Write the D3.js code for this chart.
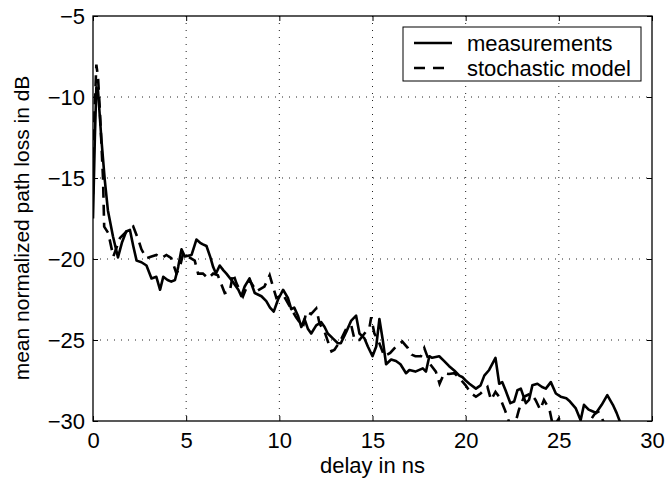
<!DOCTYPE html>
<html>
<head>
<meta charset="utf-8">
<script src="https://cdn.jsdelivr.net/npm/d3@7"></script>
<style>
  body { margin: 0; background: #fff; }
  svg text { font-family: "Liberation Sans", Arial, Helvetica, sans-serif; fill: #000; }
</style>
</head>
<body>
<div id="chart"></div>
<script>
// delay in ns / mean normalized path loss in dB
const measT = [0, 0.1, 0.18, 0.27, 0.45, 0.63, 0.8, 1.07, 1.34, 1.55, 1.78, 1.98, 2.16, 2.34, 2.6, 2.87, 3.14, 3.4, 3.6, 3.77,
  4.0, 4.2, 4.4, 4.57, 4.75, 4.93, 5.1, 5.29, 5.55, 5.75, 5.9, 6.09, 6.3, 6.45, 6.6, 6.8, 7.0, 7.16, 7.5, 7.8,
  7.96, 8.14, 8.4, 8.68, 9.04, 9.3, 9.5, 9.7, 9.93, 10.2, 10.46, 10.64, 10.8, 11.0, 11.18, 11.35, 11.53, 11.71, 11.98, 12.25,
  12.43, 12.6, 12.87, 13.14, 13.3, 13.59, 13.86, 14.12, 14.3, 14.57, 14.75, 15.0, 15.2, 15.37, 15.55, 15.73, 16.0, 16.26, 16.5, 16.8,
  16.98, 17.3, 17.7, 17.87, 18.05, 18.2, 18.58, 18.85, 19.1, 19.4, 19.66, 19.84, 20.0, 20.2, 20.55, 20.8, 21.0, 21.26, 21.6, 21.8,
  21.96, 22.14, 22.4, 22.6, 22.78, 22.96, 23.23, 23.4, 23.58, 23.85, 24.1, 24.3, 24.57, 24.84, 25.1, 25.4, 25.6, 25.9, 26.17, 26.35,
  26.6, 26.8, 27.0, 27.3, 27.6, 27.9, 28.1, 28.3];
const measV = [-17.5, -12.5, -9.4, -9.6, -12.6, -15.1, -17.0, -18.6, -19.9, -19.0, -18.3, -18.2, -19.2, -20.1, -20.2, -20.4, -21.2, -21.1, -21.9, -21.1,
  -21.3, -21.4, -21.3, -20.5, -19.4, -19.85, -19.8, -19.75, -18.8, -19.0, -19.1, -19.2, -19.9, -20.5, -20.9, -20.4, -20.7, -20.9, -21.4, -21.9,
  -22.3, -21.7, -21.2, -22.1, -22.3, -22.6, -23.0, -23.25, -22.5, -21.9, -22.4, -23.1, -23.0, -23.5, -24.2, -23.7, -24.3, -24.6, -24.1, -23.9,
  -24.2, -24.6, -24.9, -25.2, -25.2, -24.5, -23.8, -23.5, -24.6, -24.9, -25.4, -26.0, -25.4, -23.7, -25.0, -26.5, -26.2, -26.3, -26.5, -27.05,
  -26.85, -26.95, -26.75, -26.95, -26.0, -26.1, -26.0, -26.3, -26.6, -26.9, -27.2, -27.3, -27.5, -27.7, -28.0, -27.8, -27.2, -26.85, -26.1, -27.7,
  -27.6, -28.1, -28.9, -28.8, -28.1, -28.0, -28.9, -28.7, -27.8, -27.7, -27.9, -28.0, -27.6, -28.3, -28.5, -28.6, -28.8, -29.2, -29.95, -29.0,
  -29.3, -29.4, -29.5, -29.0, -28.4, -29.0, -29.5, -30.1];

const modelT = [0, 0.08, 0.18, 0.27, 0.36, 0.54, 0.6, 0.82, 1.09, 1.45, 1.8, 2.16, 2.43, 2.6, 2.87, 3.14, 3.4, 3.67, 3.94, 4.2,
  4.48, 4.66, 4.84, 5.1, 5.46, 5.64, 5.9, 6.18, 6.45, 6.7, 7.07, 7.34, 7.52, 7.7, 8.05, 8.4, 8.77, 9.2, 9.48, 9.84,
  10.2, 10.55, 10.9, 11.27, 11.45, 11.7, 11.98, 12.16, 12.43, 12.7, 12.8, 12.96, 13.3, 13.59, 13.86, 14.04, 14.3, 14.57, 14.84, 14.93,
  15.1, 15.3, 15.64, 15.95, 16.26, 16.6, 16.9, 17.1, 17.3, 17.6, 17.78, 18.1, 18.4, 18.6, 18.85, 19.1, 19.4, 19.66, 20.0, 20.3,
  20.55, 20.8, 21.17, 21.36, 21.6, 21.85, 22.1, 22.4, 22.65, 22.86, 23.13, 23.5, 23.75, 24.0, 24.2, 24.5, 24.7, 25.0, 25.3, 25.7,
  26.0, 26.5, 26.9, 27.1, 27.3, 27.5];
const modelV = [-16.0, -11.0, -8.0, -8.8, -10.6, -15.1, -18.0, -18.4, -19.85, -18.7, -18.3, -18.0, -18.8, -19.4, -19.95, -19.85, -19.75, -19.95, -19.75, -19.95,
  -20.9, -20.5, -19.65, -19.85, -20.1, -20.9, -20.9, -21.2, -20.9, -21.0, -22.1, -22.0, -20.9, -21.5, -22.3, -21.3, -22.0, -21.7, -21.0, -22.4,
  -22.2, -22.9, -23.6, -24.2, -23.25, -23.4, -23.05, -24.0, -24.5, -25.4, -25.7, -25.6, -25.0, -24.3, -24.1, -25.0, -25.0, -24.6, -24.2, -23.6,
  -24.6, -25.0, -26.0, -25.8, -25.4, -25.1, -25.5, -25.9, -26.0, -26.0, -25.5, -26.5, -26.95, -27.7, -27.05, -27.1, -27.05, -27.35, -27.8, -28.3,
  -28.5, -28.3, -27.9, -28.7, -28.2, -28.6, -29.3, -30.3, -30.2, -29.3, -28.5, -28.3, -28.7, -29.3, -28.7, -29.3, -30.4, -29.85, -30.5, -30.6,
  -30.5, -30.3, -29.6, -29.4, -29.8, -30.3];

const xTicks = [0, 5, 10, 15, 20, 25, 30];
const yTicks = [-30, -25, -20, -15, -10, -5];
const legendLabels = ["measurements", "stochastic model"];

const width = 666, height = 483;
const margin = { top: 16, right: 14, bottom: 62, left: 93 };
const w = width - margin.left - margin.right;
const h = height - margin.top - margin.bottom;
const fontSize = "22px";

const x = d3.scaleLinear().domain([0, 30]).range([0, w]);
const y = d3.scaleLinear().domain([-30, -5]).range([h, 0]);

const svg = d3.select("#chart").append("svg")
  .attr("width", width)
  .attr("height", height);

svg.append("defs").append("clipPath")
  .attr("id", "plot-clip")
  .append("rect")
  .attr("width", w)
  .attr("height", h);

const g = svg.append("g")
  .attr("transform", "translate(" + margin.left + "," + margin.top + ")");

// dotted grid
const grid = g.append("g").attr("class", "grid");
grid.selectAll("line.gx")
  .data(xTicks.slice(1, -1))
  .join("line")
  .attr("x1", d => x(d)).attr("x2", d => x(d))
  .attr("y1", 0).attr("y2", h)
  .attr("stroke", "#222").attr("stroke-width", 1)
  .attr("stroke-dasharray", "1,6");
grid.selectAll("line.gy")
  .data(yTicks.slice(1, -1))
  .join("line")
  .attr("x1", 0).attr("x2", w)
  .attr("y1", d => y(d)).attr("y2", d => y(d))
  .attr("stroke", "#222").attr("stroke-width", 1)
  .attr("stroke-dasharray", "1,6");

// axes, ticks inward on all four sides
const fmt = d3.format("d");
const styleAxis = function (sel) {
  sel.select(".domain").remove();
  sel.selectAll(".tick line").attr("stroke", "#000").attr("stroke-width", 1);
  sel.selectAll(".tick text").style("font-size", fontSize);
};
g.append("g")
  .attr("transform", "translate(0," + h + ")")
  .call(d3.axisBottom(x).tickValues(xTicks).tickFormat(fmt).tickSizeInner(-5).tickSizeOuter(0).tickPadding(11))
  .call(styleAxis);
g.append("g")
  .call(d3.axisLeft(y).tickValues(yTicks).tickFormat(fmt).tickSizeInner(-5).tickSizeOuter(0).tickPadding(8))
  .call(styleAxis);
g.append("g")
  .call(d3.axisTop(x).tickValues(xTicks).tickFormat("").tickSizeInner(-5).tickSizeOuter(0))
  .call(styleAxis);
g.append("g")
  .attr("transform", "translate(" + w + ",0)")
  .call(d3.axisRight(y).tickValues(yTicks).tickFormat("").tickSizeInner(-5).tickSizeOuter(0))
  .call(styleAxis);

// series
const line = d3.line()
  .x(d => x(d[0]))
  .y(d => y(d[1]));
const lines = g.append("g").attr("clip-path", "url(#plot-clip)");
lines.append("path")
  .datum(d3.zip(modelT, modelV))
  .attr("fill", "none")
  .attr("stroke", "#000")
  .attr("stroke-width", 2.6)
  .attr("stroke-dasharray", "11,7")
  .attr("d", line);
lines.append("path")
  .datum(d3.zip(measT, measV))
  .attr("fill", "none")
  .attr("stroke", "#000")
  .attr("stroke-width", 2.6)
  .attr("stroke-linejoin", "round")
  .attr("d", line);

// frame
g.append("rect")
  .attr("width", w).attr("height", h)
  .attr("fill", "none")
  .attr("stroke", "#000")
  .attr("stroke-width", 1.3);

// legend
const lg = svg.append("g").attr("transform", "translate(403,27)");
lg.append("rect")
  .attr("width", 238).attr("height", 54)
  .attr("fill", "#fff")
  .attr("stroke", "#000")
  .attr("stroke-width", 1);
legendLabels.forEach((label, i) => {
  const ly = 16 + i * 25;
  lg.append("line")
    .attr("x1", 11).attr("x2", 49)
    .attr("y1", ly).attr("y2", ly)
    .attr("stroke", "#000").attr("stroke-width", 2.6)
    .attr("stroke-dasharray", i === 1 ? "11,8" : null);
  lg.append("text")
    .attr("x", 64).attr("y", ly)
    .attr("dy", "0.35em")
    .style("font-size", fontSize)
    .text(label);
});

// axis titles
svg.append("text")
  .attr("x", margin.left + w / 2)
  .attr("y", 473)
  .attr("text-anchor", "middle")
  .style("font-size", fontSize)
  .text("delay in ns");
svg.append("text")
  .attr("transform", "translate(29,228) rotate(-90)")
  .attr("text-anchor", "middle")
  .style("font-size", "21px")
  .text("mean normalized path loss in dB");
</script>
</body>
</html>
